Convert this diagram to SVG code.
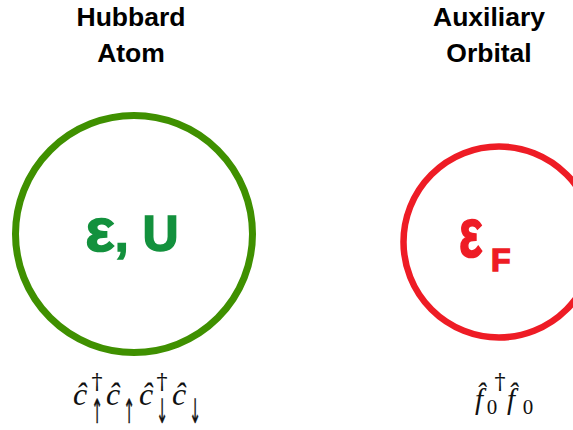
<svg xmlns="http://www.w3.org/2000/svg" width="573" height="430" viewBox="0 0 573 430">
<style>
.title{font-family:"Liberation Sans",Arial,sans-serif;font-weight:bold;font-size:26.5px;fill:#000;text-anchor:middle}
.m{font-family:"Liberation Serif","Times New Roman",serif;font-style:italic;font-size:32px;fill:#111}
.mf{font-family:"Liberation Serif","Times New Roman",serif;font-style:italic;font-size:29px;fill:#111}
.sup{font-family:"DejaVu Serif",serif;font-size:22px;fill:#111;text-anchor:middle}
.sub{font-family:"DejaVu Sans",sans-serif;font-size:24px;fill:#111;text-anchor:middle;stroke:#111;stroke-width:0.3;opacity:0.99}
.zero{font-family:"Liberation Serif",serif;font-size:21px;fill:#111;text-anchor:middle}
.hw{font-family:"Liberation Sans",Arial,sans-serif;font-weight:bold}
</style>
<rect width="573" height="430" fill="#fff"/>
<g id="hubbard">
<text class="title" x="131" y="26">Hubbard</text>
<text class="title" x="131" y="62">Atom</text>
<circle cx="134" cy="234" r="118.5" fill="none" stroke="#3f9000" stroke-width="7"/>
<text class="hw" x="132" y="251" text-anchor="middle" fill="#13913d" stroke="#13913d" stroke-width="1.5"><tspan font-size="62">ε</tspan><tspan font-size="50">, U</tspan></text>
<g id="hubbard-op">
<text class="m" x="73" y="405">ĉ</text>
<text class="sup" x="97" y="389">†</text><text class="sub" transform="translate(97,423) scale(0.6,1.4)">↑</text>
<text class="m" x="106" y="405">ĉ</text>
<text class="sub" transform="translate(129,423) scale(0.6,1.4)">↑</text>
<text class="m" x="139" y="405">ĉ</text>
<text class="sup" x="162" y="389">†</text><text class="sub" transform="translate(162,423) scale(0.6,1.4)">↓</text>
<text class="m" x="172" y="405">ĉ</text>
<text class="sub" transform="translate(195,423) scale(0.6,1.4)">↓</text>
</g>
</g>
<g id="auxiliary">
<text class="title" x="489" y="26">Auxiliary</text>
<text class="title" x="489" y="62">Orbital</text>
<circle cx="499" cy="242" r="95.5" fill="none" stroke="#ee1c25" stroke-width="6.5"/>
<text class="hw" transform="translate(459,257) scale(0.8,1.15)" fill="#ee1c25" stroke="#ee1c25" stroke-width="1.5" font-size="62">ε</text>
<text class="hw" x="491" y="271" fill="#ee1c25" stroke="#ee1c25" stroke-width="1.5" font-size="32">F</text>
<g id="aux-op">
<text class="mf" x="475" y="409">f̂</text>
<text class="sup" x="500" y="389">†</text><text class="zero" x="492" y="414">0</text>
<text class="mf" x="507" y="409">f̂</text>
<text class="zero" x="528" y="414">0</text>
</g>
</g>
</svg>
